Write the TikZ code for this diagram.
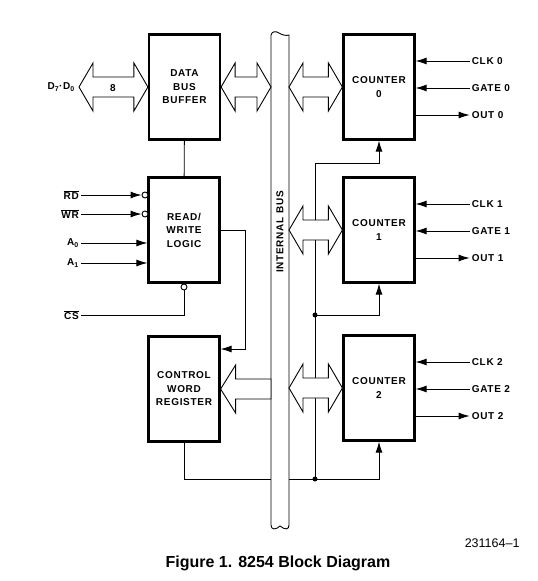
\documentclass[tikz,border=0pt]{standalone}
\usepackage{fontspec}
\usepackage{tikz}
\usetikzlibrary{positioning, arrows.meta, calc}
\newfontfamily\diagramFont[LetterSpace=7]{Liberation Sans}
\newfontfamily\captionFont{Liberation Sans}
\tikzstyle{blockDiagram} = [x = 1pt, y = -1pt, font = {\diagramFont\bfseries\fontsize{10}{13.5}\selectfont}]
\tikzstyle{blockStyle} = [draw, line width = 2.2pt, minimum width = 71pt, minimum height = 105pt, align = center, inner sep = 0pt]
\tikzstyle{wireStyle} = [line width = 0.9pt]
\tikzstyle{signalArrow} = [wireStyle, -{Latex[length = 11pt, width = 7pt]}]
\tikzstyle{busArrowStyle} = [draw, fill = white, line width = 0.9pt, line join = miter]
\tikzstyle{busBody} = [minimum width = 18pt, minimum height = 488pt, inner sep = 0pt, outer sep = 0pt]
\tikzstyle{bubbleStyle} = [circle, draw, fill = white, line width = 0.9pt, minimum size = 6pt, inner sep = 0pt]
\tikzstyle{junctionDot} = [circle, fill, minimum size = 5pt, inner sep = 0pt]
\tikzstyle{pinLabel} = [inner sep = 2pt]
\newcommand{\doubleBusArrow}[2]{\filldraw [busArrowStyle] let \p1 = (#1), \p2 = (#2) in (\x1, \y1) -- (\x1 + 14pt, \y1 + 24pt) -- (\x1 + 14pt, \y1 + 10pt) -- (\x2 - 14pt, \y1 + 10pt) -- (\x2 - 14pt, \y1 + 24pt) -- (\x2, \y1) -- (\x2 - 14pt, \y1 - 24pt) -- (\x2 - 14pt, \y1 - 10pt) -- (\x1 + 14pt, \y1 - 10pt) -- (\x1 + 14pt, \y1 - 24pt) -- cycle;}
\newcommand{\singleBusArrow}[2]{\filldraw [busArrowStyle] let \p1 = (#1), \p2 = (#2) in (\x1, \y1) -- (\x1 + 15pt, \y1 + 24pt) -- (\x1 + 15pt, \y1 + 10pt) -- (\x2, \y1 + 10pt) -- (\x2, \y1 - 10pt) -- (\x1 + 15pt, \y1 - 10pt) -- (\x1 + 15pt, \y1 - 24pt) -- cycle;}
\newcommand{\counterPins}[1]{
  \node [pinLabel, anchor = west] (clk#1) at ([xshift = 54pt, yshift = 26pt]counter#1.east) {CLK #1};
  \node [pinLabel, anchor = west] (gate#1) at ([xshift = 54pt, yshift = -1pt]counter#1.east) {GATE #1};
  \node [pinLabel, anchor = west] (out#1) at ([xshift = 54pt, yshift = -28pt]counter#1.east) {OUT #1};
  \draw [signalArrow] (clk#1) -- (clk#1 -| counter#1.east);
  \draw [signalArrow] (gate#1) -- (gate#1 -| counter#1.east);
  \draw [signalArrow] (counter#1.east |- out#1) -- (out#1);
}

\begin{document}
\begin{tikzpicture}[blockDiagram]
  \useasboundingbox (0,0) rectangle (538,581);
  \node [blockStyle] (dataBus) at (184.5,87) {DATA\\BUS\\BUFFER};
  \node [blockStyle] (rwLogic) at (184,230) {READ/\\WRITE\\LOGIC};
  \node [blockStyle] (cwReg) at (184,389) {CONTROL\\WORD\\REGISTER};
  \foreach \k/\yc in {0/87, 1/230, 2/388} {
    \node [blockStyle] (counter\k) at (379,\yc) {COUNTER\\\k};
    \counterPins{\k}
  }
  \node [busBody] (bus) at (280,281) {};

  \node [pinLabel, anchor = east] (rdPin) at (81,195) {$\overline{\hbox{RD}}$};
  \node [pinLabel, anchor = east] (wrPin) at (81,214) {$\overline{\hbox{WR}}$};
  \node [pinLabel, anchor = east] (aZeroPin) at (81,243) {A\textsubscript{0}};
  \node [pinLabel, anchor = east] (aOnePin) at (81,263) {A\textsubscript{1}};
  \node [pinLabel, anchor = east] (csPin) at (81,315) {$\overline{\hbox{CS}}$};
  \node [bubbleStyle] (rdBubble) at (145,195) {};
  \node [bubbleStyle] (wrBubble) at (145,214) {};
  \node [bubbleStyle] (csBubble) at (184,287) {};
  \draw [signalArrow] (rdPin) -- (rdBubble);
  \draw [signalArrow] (wrPin) -- (wrBubble);
  \draw [signalArrow] (aZeroPin) -- (aZeroPin -| rwLogic.west);
  \draw [signalArrow] (aOnePin) -- (aOnePin -| rwLogic.west);
  \draw [wireStyle] (csPin) -| (csBubble);
  \draw [wireStyle] (dataBus) -- (rwLogic);

  \coordinate (rwBend) at (245,230);
  \coordinate (cwInput) at ([yshift = 40pt]cwReg.east);
  \draw [signalArrow] (rwLogic.east) -- (rwBend) |- (cwInput);

  \coordinate (clockTap) at (315,163);
  \coordinate (gateTapOne) at (315,315);
  \coordinate (gateTapTwo) at (315,479);
  \draw [wireStyle] (cwReg.south) |- (gateTapTwo) -- (clockTap);
  \draw [signalArrow] (clockTap) -| (counter0.south);
  \draw [signalArrow] (gateTapOne) -| (counter1.south);
  \draw [signalArrow] (gateTapTwo) -| (counter2.south);
  \node [junctionDot] (dotOne) at (gateTapOne) {};
  \node [junctionDot] (dotTwo) at (gateTapTwo) {};

  \filldraw [busArrowStyle] (271,525) -- (271,35) .. controls (272,31) and (276,31) .. (279,33) .. controls (282,35) and (286,36) .. (289,35) -- (289,525) .. controls (289,530) and (285,530) .. (280,526) .. controls (276,530) and (271,530) .. (271,525) -- cycle;
  \node [rotate = 90] (busLabel) at (280,232) {INTERNAL BUS};

  \coordinate (dataPins) at (79,87);
  \doubleBusArrow{dataPins}{dataBus.west}
  \node (busWidth) at (113,88) {8};
  \node [anchor = east, inner sep = 4pt] (dataLabel) at (dataPins) {D\textsubscript{7}·D\textsubscript{0}};
  \doubleBusArrow{dataBus.east}{bus.west |- dataBus.east}
  \singleBusArrow{cwReg.east}{bus.west |- cwReg.east}
  \foreach \k in {0,1,2} {
    \doubleBusArrow{bus.east |- counter\k.west}{counter\k.west}
  }

  \node [anchor = east, font = {\captionFont\fontsize{12.5}{14}\selectfont}] (figNumber) at (523,543) {231164–1};
  \node [font = {\captionFont\bfseries\fontsize{16}{18}\selectfont}] (figTitle) at (278,563) {Figure 1. 8254 Block Diagram};
\end{tikzpicture}
\end{document}
